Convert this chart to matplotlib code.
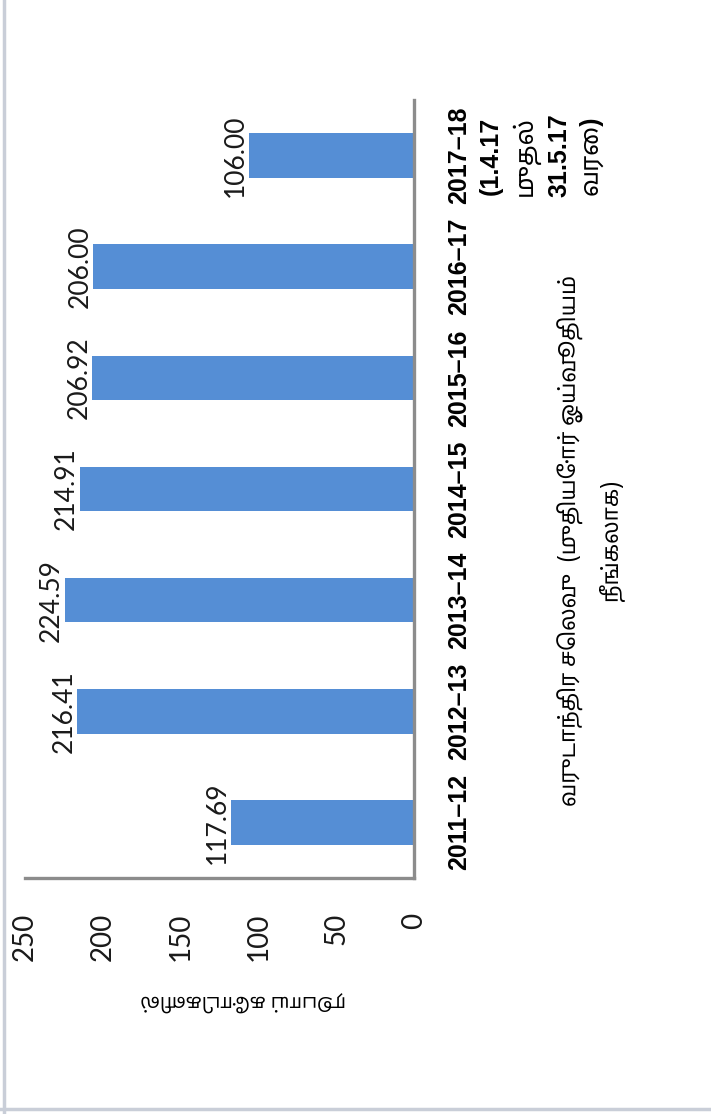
import matplotlib
matplotlib.use('Agg')
import matplotlib.pyplot as plt
from matplotlib import font_manager as fm
from matplotlib.lines import Line2D
from fontTools.ttLib import TTFont

categories = ['2011–12', '2012–13', '2013–14', '2014–15', '2015–16', '2016–17',
              '2017–18\n(1.4.17\nமுதல்\n31.5.17\nவரை)']
values = [117.69, 216.41, 224.59, 214.91, 206.92, 206.00, 106.00]
value_ticks = [0, 50, 100, 150, 200, 250]
cat_title = 'வருடாந்திர செலவு  (முதியோர் ஓய்வூதியம்\nநீங்கலாக)'
val_title = 'ரூபாய் கோடிகளில்'


def has_tamil(path):
    try:
        t = TTFont(path, fontNumber=0, lazy=True)
        cmap = t.getBestCmap()
        return bool(cmap) and 0x0B95 in cmap
    except Exception:
        return False


pref = ['Noto Sans Tamil', 'Lohit Tamil', 'Noto Sans Tamil UI', 'Hind Madurai', 'FreeSans']
available = {e.name: e.fname for e in fm.fontManager.ttflist}
tamfam = [p for p in pref if p in available and has_tamil(available[p])][:1]
if not tamfam:
    for e in fm.fontManager.ttflist:
        if has_tamil(e.fname):
            tamfam = [e.name]
            break

W, H = 711, 1114
fig = plt.figure(figsize=(W / 100, H / 100), dpi=100)
ax = fig.add_axes([25 / W, 1 - 878 / H, (414 - 25) / W, (878 - 100) / H])

pos = list(range(len(categories)))
ax.barh(pos, values, height=0.4, color='#558ED5')
ax.set_xlim(250, 0)
ax.set_ylim(-0.5, len(categories) - 0.5)

for s in ['left', 'top']:
    ax.spines[s].set_visible(False)
for s in ['right', 'bottom']:
    ax.spines[s].set_color('#8c8c8c')
    ax.spines[s].set_linewidth(2.4)

ax.set_xticks(value_ticks)
ax.set_xticklabels([str(v) for v in value_ticks], rotation=90,
                   family=['Lato', 'DejaVu Sans'], fontsize=20, color='#1a1a1a')
ax.tick_params(axis='x', length=0, pad=25)

ax.yaxis.tick_right()
ax.set_yticks(pos)
ax.set_yticklabels(categories, rotation=90, fontweight='bold',
                   family=['Liberation Sans'] + tamfam + ['DejaVu Sans'],
                   fontsize=18, multialignment='center', linespacing=1.4,
                   va='center')
ax.tick_params(axis='y', length=0, pad=24)

for p, v in zip(pos, values):
    ax.text(v + 0.5, p, f'{v:.2f}', rotation=90, ha='right', va='center',
            family=['Lato', 'DejaVu Sans'], fontsize=19, color='#1a1a1a')

fig.text(591 / W, 1 - 540 / H, cat_title, rotation=90, ha='center', va='center',
         family=tamfam + ['DejaVu Sans'], fontsize=16, multialignment='center',
         linespacing=1.75)
fig.text(243 / W, 1 - 1000 / H, val_title, rotation=180, ha='center', va='center',
         family=tamfam + ['DejaVu Sans'], fontsize=14)

fig.add_artist(Line2D([4 / W, 4 / W], [0, 1], transform=fig.transFigure,
                      color='#c9ced8', lw=2.5))
fig.add_artist(Line2D([0, 1], [1 - 1109 / H, 1 - 1109 / H], transform=fig.transFigure,
                      color='#c9ced8', lw=2.5))

fig.savefig('out.png', dpi=100)
